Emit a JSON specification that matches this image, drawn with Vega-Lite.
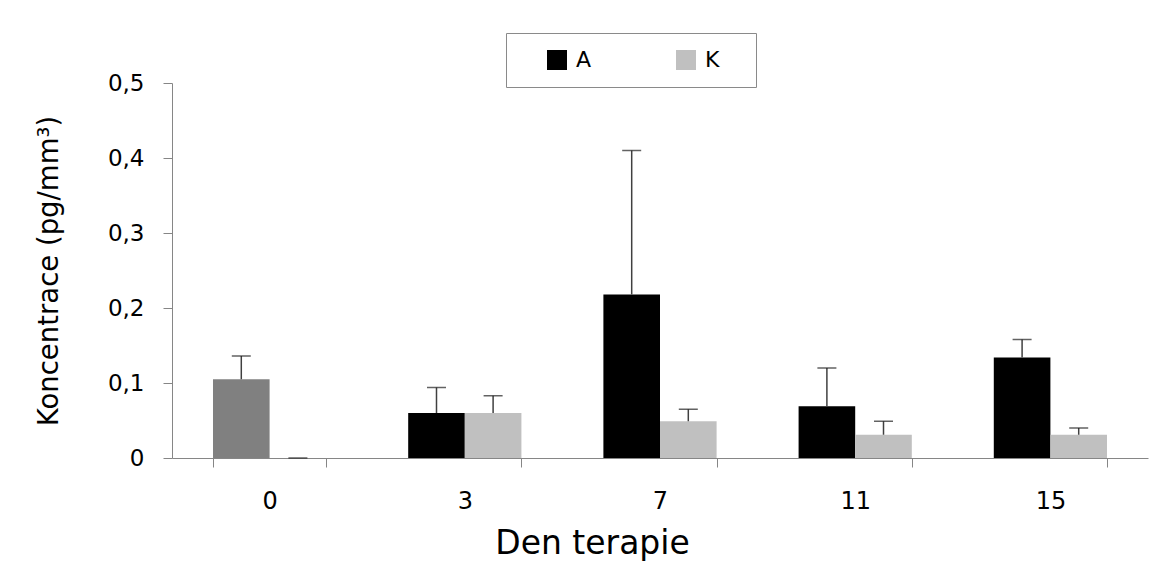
{
  "$schema": "https://vega.github.io/schema/vega-lite/v6.json",
  "width": 976,
  "height": 375,
  "autosize": {"type": "none"},
  "padding": {"left": 172, "top": 83, "right": 4, "bottom": 111},
  "background": "white",
  "config": {
    "view": {"stroke": null},
    "axis": {"grid": false, "domainColor": "#868686", "tickColor": "#868686", "labelColor": "black", "titleColor": "black"}
  },
  "data": {
    "values": [
      {"day": 0, "group": "A", "value": 0.105, "err": 0.136},
      {"day": 0, "group": "K", "value": 0.0, "err": 0.0},
      {"day": 3, "group": "A", "value": 0.06, "err": 0.094},
      {"day": 3, "group": "K", "value": 0.06, "err": 0.083},
      {"day": 7, "group": "A", "value": 0.218, "err": 0.41},
      {"day": 7, "group": "K", "value": 0.049, "err": 0.065},
      {"day": 11, "group": "A", "value": 0.069, "err": 0.12},
      {"day": 11, "group": "K", "value": 0.031, "err": 0.049},
      {"day": 15, "group": "A", "value": 0.134, "err": 0.158},
      {"day": 15, "group": "K", "value": 0.031, "err": 0.04}
    ]
  },
  "encoding": {
    "x": {
      "field": "day", "type": "ordinal",
      "scale": {"paddingInner": 0.42, "paddingOuter": 0.21},
      "axis": {
        "title": "Den terapie", "labelAngle": 0, "tickBand": "extent", "tickSize": 9,
        "labelFont": "DejaVu Sans", "labelFontSize": 24, "labelPadding": 22,
        "titleFont": "DejaVu Sans", "titleFontSize": 33, "titleFontWeight": "normal", "titlePadding": 14,
        "titleX": 420, "titleAlign": "center"
      }
    },
    "xOffset": {"field": "group", "type": "nominal", "scale": {"paddingInner": 0, "paddingOuter": 0}}
  },
  "layer": [
    {
      "mark": {"type": "bar"},
      "encoding": {
        "y": {
          "field": "value", "type": "quantitative",
          "scale": {"domain": [0, 0.5]},
          "axis": {
            "title": "Koncentrace (pg/mm³)", "values": [0, 0.1, 0.2, 0.3, 0.4, 0.5], "tickSize": 9,
            "labelExpr": "datum.value == 0 ? '0' : replace(format(datum.value, '.1f'), '.', ',')",
            "labelFont": "DejaVu Sans", "labelFontSize": 23, "labelPadding": 19,
            "titleFont": "DejaVu Sans", "titleFontSize": 27.5, "titleFontWeight": "normal", "titlePadding": 44
          }
        },
        "color": {
          "field": "group", "type": "nominal",
          "scale": {"domain": ["A", "K"], "range": ["#000000", "#c0c0c0"]},
          "condition": {"test": "datum.day == 0 && datum.group == 'A'", "value": "#808080"},
          "legend": {
            "title": ".", "titleOrient": "right", "titleColor": "white", "titleFontSize": 10, "titlePadding": 18,
            "orient": "none", "direction": "horizontal",
            "legendX": 334, "legendY": -50,
            "strokeColor": "#8a8a8a", "padding": 16, "symbolOffset": 24,
            "symbolType": "square", "symbolSize": 400, "symbolStrokeWidth": 0,
            "labelFont": "DejaVu Sans", "labelFontSize": 22, "labelOffset": 8,
            "columnPadding": 59
          }
        }
      }
    },
    {
      "mark": {"type": "rule", "color": "#404040", "strokeWidth": 1.5},
      "encoding": {
        "y": {"field": "value", "type": "quantitative"},
        "y2": {"field": "err"}
      }
    },
    {
      "mark": {"type": "tick", "color": "#202020", "thickness": 1.5, "size": 19},
      "encoding": {
        "y": {"field": "err", "type": "quantitative"}
      }
    }
  ]
}
